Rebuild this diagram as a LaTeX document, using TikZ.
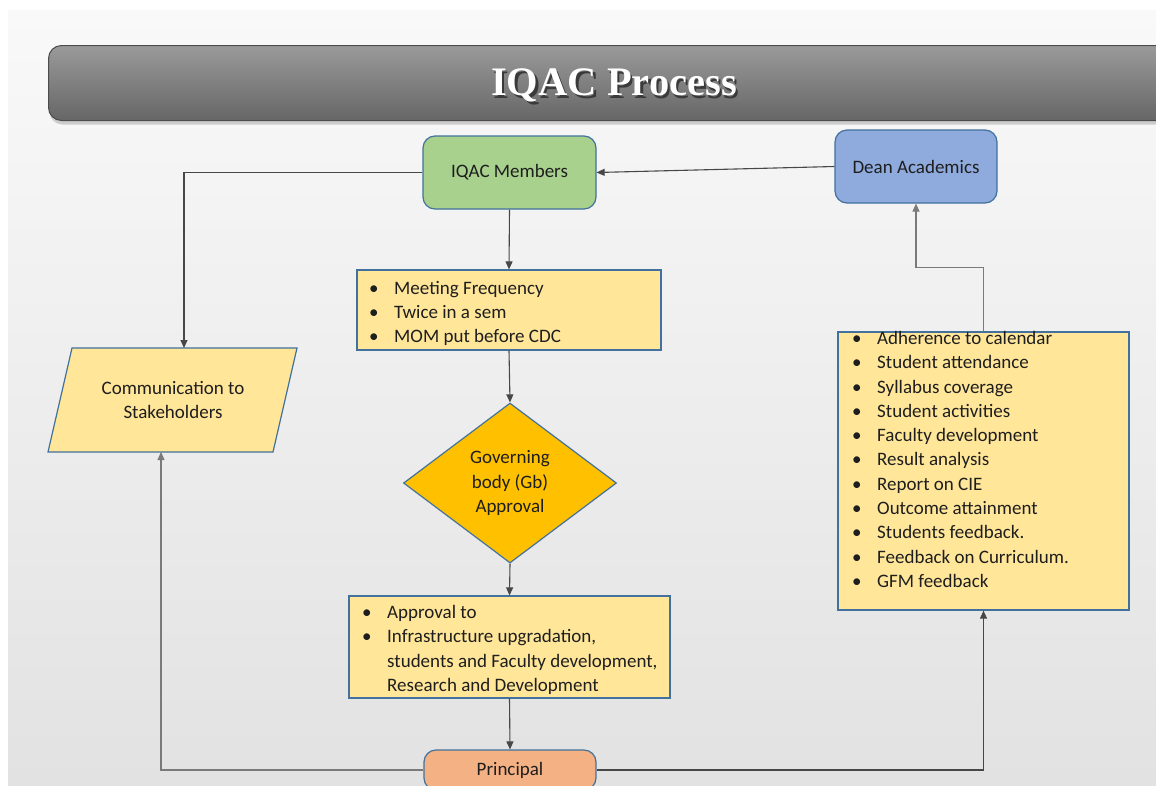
\documentclass[tikz,border=0pt]{standalone}
\usepackage{fontspec}
\setmainfont{Carlito}
\newfontfamily\titlefont{Liberation Serif}
\usetikzlibrary{arrows.meta,shapes.geometric,shadows}

\definecolor{bordblue}{HTML}{41719C}
\definecolor{memgreen}{HTML}{A9D18E}
\definecolor{deanblue}{HTML}{8FAADC}
\definecolor{boxyellow}{HTML}{FFE699}
\definecolor{diagold}{HTML}{FFC000}
\definecolor{prinorange}{HTML}{F4B183}
\definecolor{bgtop}{HTML}{F9F9F9}
\definecolor{bgbot}{HTML}{E2E2E2}
\definecolor{bartop}{HTML}{9A9A9A}
\definecolor{barbot}{HTML}{666666}
\definecolor{txt}{HTML}{1E1E1E}
\definecolor{tshadow}{HTML}{3A3A3A}

\newcommand{\bitem}[1]{\makebox[25pt][l]{\textbullet}#1}
\newcommand{\bcont}[1]{\hspace*{25pt}#1}
% white title with a soft dark offset copy behind it
\newcommand{\shadowtitle}[1]{\makebox[0pt][l]{\hspace*{2.5pt}\raisebox{-2.5pt}{\color{tshadow}#1}}#1}

\begin{document}
\begin{tikzpicture}[x=1pt,y=-1pt,
  every node/.style={font=\fontsize{19}{24.3}\selectfont, text=txt},
  rbox/.style={draw=bordblue, line width=1.2pt, rounded corners=12pt, align=center},
  lbox/.style={draw=bordblue, line width=1.2pt, fill=boxyellow},
  ltext/.style={inner sep=0pt, align=left},
  conn/.style={draw=black!72, line width=1.1pt, -{Triangle[length=8pt,width=7pt]}},
  lconn/.style={conn, draw=black!52},
]
\clip (0,0) rectangle (1156,785);
\fill[white] (0,0) rectangle (1156,785);
\shade[top color=bgtop, bottom color=bgbot] (8,10) rectangle (1156,785);

% title bar
\node[draw=black!70, line width=1pt, rounded corners=13pt, top color=bartop, bottom color=barbot,
      minimum width=1160pt, minimum height=75pt, anchor=north west,
      drop shadow={shadow xshift=1pt, shadow yshift=-4pt, opacity=0.35}] (bar) at (48,45) {};
\node[font=\titlefont\bfseries\fontsize{40.5}{46}\selectfont, text=white] (title) at (614,87)
  {\shadowtitle{IQAC Process}};

% boxes
\node[rbox, fill=memgreen, minimum width=173pt, minimum height=73pt] (mem) at (509.5,172.5) {IQAC Members};
\node[rbox, fill=deanblue, minimum width=162pt, minimum height=73pt] (dean) at (916,166.5) {Dean Academics};

\node[lbox, minimum width=304pt, minimum height=80pt] (meet) at (509,310) {};
\node[ltext, anchor=north west] (meettxt) at (369,281)
  {\bitem{Meeting Frequency}\\ \bitem{Twice in a sem}\\ \bitem{MOM put before CDC}};

\node[diamond, fill=diagold, draw=bordblue, line width=1.2pt, minimum width=213pt, minimum height=160pt,
      inner sep=0pt, aspect=1.33, align=center] (gb) at (510,483) {Governing\\body (Gb)\\Approval};

\node[lbox, minimum width=321pt, minimum height=102pt] (appr) at (509.5,647) {};
\node[ltext, anchor=north west] (apprtxt) at (362,605)
  {\bitem{Approval to}\\ \bitem{Infrastructure upgradation,}\\ \bcont{students and Faculty development,}\\ \bcont{Research and Development}};

\node[rbox, fill=prinorange, minimum width=172pt, minimum height=40pt] (prin) at (510,770) {Principal};

% parallelogram for the stakeholders step
\filldraw[fill=boxyellow, draw=bordblue, line width=1.2pt] (48,452) -- (72,348) -- (297,348) -- (273,452) -- cycle;
\node[align=center] (comm) at (173,400) {Communication to\\Stakeholders};
\coordinate (commtop) at (184,348);
\coordinate (commbot) at (161,452);

\node[lbox, minimum width=291pt, minimum height=278pt] (list) at (983.5,471) {};
\node[ltext, anchor=north west] (listtxt) at (852,331)
  {\bitem{Adherence to calendar}\\ \bitem{Student attendance}\\ \bitem{Syllabus coverage}\\
   \bitem{Student activities}\\ \bitem{Faculty development}\\ \bitem{Result analysis}\\
   \bitem{Report on CIE}\\ \bitem{Outcome attainment}\\ \bitem{Students feedback.}\\
   \bitem{Feedback on Curriculum.}\\ \bitem{GFM feedback}};

% connectors
\draw[conn] (mem.south) -- (meet.north);
\draw[conn] (meet.south) -- (gb.north);
\draw[conn] (gb.south) -- (appr.north);
\draw[conn] (appr.south) -- (prin.north);
\draw[conn] (dean.west) -- (mem.east);
\draw[conn] (mem.west) -| (commtop);
\draw[lconn] (prin.west) -| (commbot);
\draw[conn] (prin.east) -| (list.south);
\draw[lconn] (list.north) -- ++(0,-64) -| (dean.south);
\end{tikzpicture}
\end{document}
